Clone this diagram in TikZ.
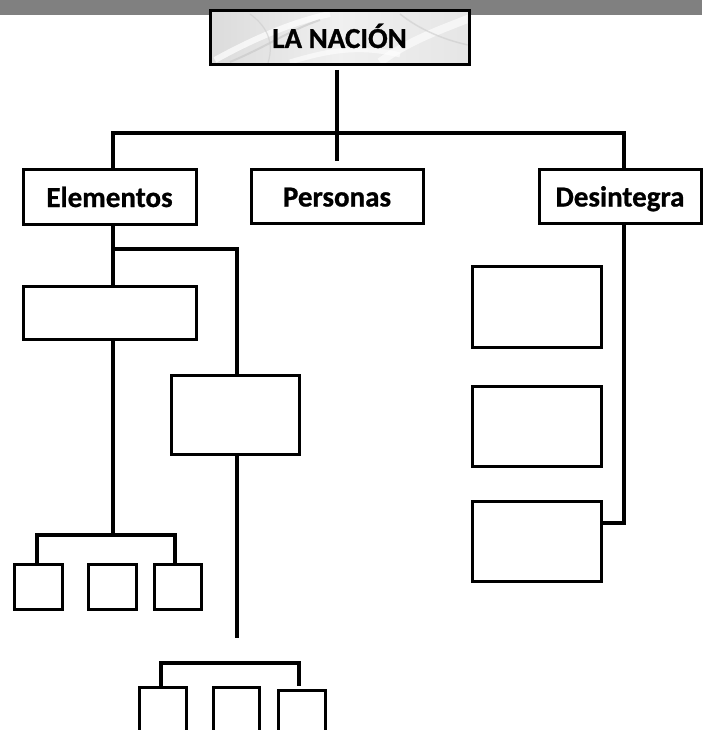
\documentclass[tikz,border=0pt]{standalone}
\usepackage{fontspec}
\setmainfont{Carlito}[BoldFeatures={FakeBold=0.8}]
\usetikzlibrary{calc}
\definecolor{bargray}{HTML}{808080}
\tikzset{
  box/.style={draw=black, line width=3pt, inner sep=0pt, outer sep=0pt, fill=white},
  lbl/.style={font=\fontsize{29}{30}\selectfont\bfseries, text height=20pt, text depth=0pt},
  conn/.style={draw=black, line width=3.3pt},
}
\begin{document}
\begin{tikzpicture}[x=1pt,y=-1pt]
\useasboundingbox (0,0) rectangle (702,730);
\fill[white] (0,0) rectangle (702,730);
\fill[bargray] (0,0) rectangle (702,15);

% title box with a marble-like fill
\node[box, minimum width=259pt, minimum height=54pt, left color=gray!28, right color=gray!20, middle color=gray!12] (nacion) at (339.5,38) {};
\begin{scope}
  \clip (211.5,12.5) rectangle (467.5,63.5);
  \draw[white, line width=6pt, opacity=0.7] (215,60) .. controls (260,35) and (300,20) .. (330,14);
  \draw[gray!45, line width=2pt, opacity=0.6] (230,62) .. controls (270,45) and (290,30) .. (320,20);
  \draw[white, line width=8pt, opacity=0.6] (380,62) .. controls (410,40) and (440,30) .. (470,18);
  \draw[gray!40, line width=1.5pt, opacity=0.6] (400,14) .. controls (420,30) and (445,40) .. (468,45);
  \draw[white, line width=5pt, opacity=0.6] (290,62) .. controls (330,50) and (360,45) .. (400,55);
  \draw[gray!40, line width=1.2pt, opacity=0.6] (250,14) .. controls (265,25) and (275,40) .. (268,63);
\end{scope}
\draw[black, line width=3pt] (nacion.south west) rectangle (nacion.north east);
\node[lbl] at (nacion.center) {LA NACIÓN};

% second level
\node[box, lbl, minimum width=173pt, minimum height=54pt] (elem) at (109.5,197) {Elementos};
\node[box, lbl, minimum width=172pt, minimum height=53pt] (pers) at (337,196.5) {Personas};
\node[box, lbl, minimum width=162pt, minimum height=53pt] (desi) at (620,196.5) {Desintegra};

% left branch boxes
\node[box, minimum width=173pt, minimum height=53pt] (a1) at (109.5,312.5) {};
\node[box, minimum width=128pt, minimum height=79pt] (b1) at (235,414.5) {};
\node[box, minimum width=48pt, minimum height=45pt] (s1) at (38,586.5) {};
\node[box, minimum width=48pt, minimum height=45pt] (s2) at (112,586.5) {};
\node[box, minimum width=47pt, minimum height=45pt] (s3) at (177.5,586.5) {};
\begin{scope}
  \clip (0,0) rectangle (702,730);
  \node[box, minimum width=47pt, minimum height=70pt] (t1) at (162.5,722) {};
  \node[box, minimum width=46pt, minimum height=70pt] (t2) at (236,722) {};
  \node[box, minimum width=47pt, minimum height=70pt] (t3) at (301.5,725) {};
\end{scope}

% right branch boxes
\node[box, minimum width=129pt, minimum height=81pt] (r1) at (536.5,306.5) {};
\node[box, minimum width=129pt, minimum height=80pt] (r2) at (536.5,426) {};
\node[box, minimum width=129pt, minimum height=80pt] (r3) at (536.5,541) {};

% coordinates
\coordinate (ctop) at (337,70);
\coordinate (cbot) at (337,161);
\coordinate (e1) at (113,133);
\coordinate (d1) at (624,133);
\coordinate (e2) at (113,249);
\coordinate (b2) at (237,249);
\coordinate (e3) at (113,535);
\coordinate (sl) at (37,535);
\coordinate (sr) at (175,535);
\coordinate (bend) at (237,638);
\coordinate (tl) at (161,663);
\coordinate (tr) at (299,663);
\coordinate (trend) at (299,686);
\coordinate (d2) at (624,523);

% connectors
\draw[conn] (ctop) -- (cbot);
\draw[conn] (elem.north -| e1) -- (e1) -- (d1) -- (desi.north -| d1);
\draw[conn] (elem.south -| e1) -- (a1.north -| e1);
\draw[conn] (e2) -- (b2) -- (b1.north -| b2);
\draw[conn] (a1.south -| e1) -- (e3);
\draw[conn] (s1.north -| sl) -- (sl) -- (sr) -- (s3.north -| sr);
\draw[conn] (b1.south -| b2) -- (bend);
\draw[conn] (t1.north -| tl) -- (tl) -- (tr) -- (trend);
\draw[conn] (desi.south -| d1) -- (d2) -- (r3.east |- d2);
\end{tikzpicture}
\end{document}
